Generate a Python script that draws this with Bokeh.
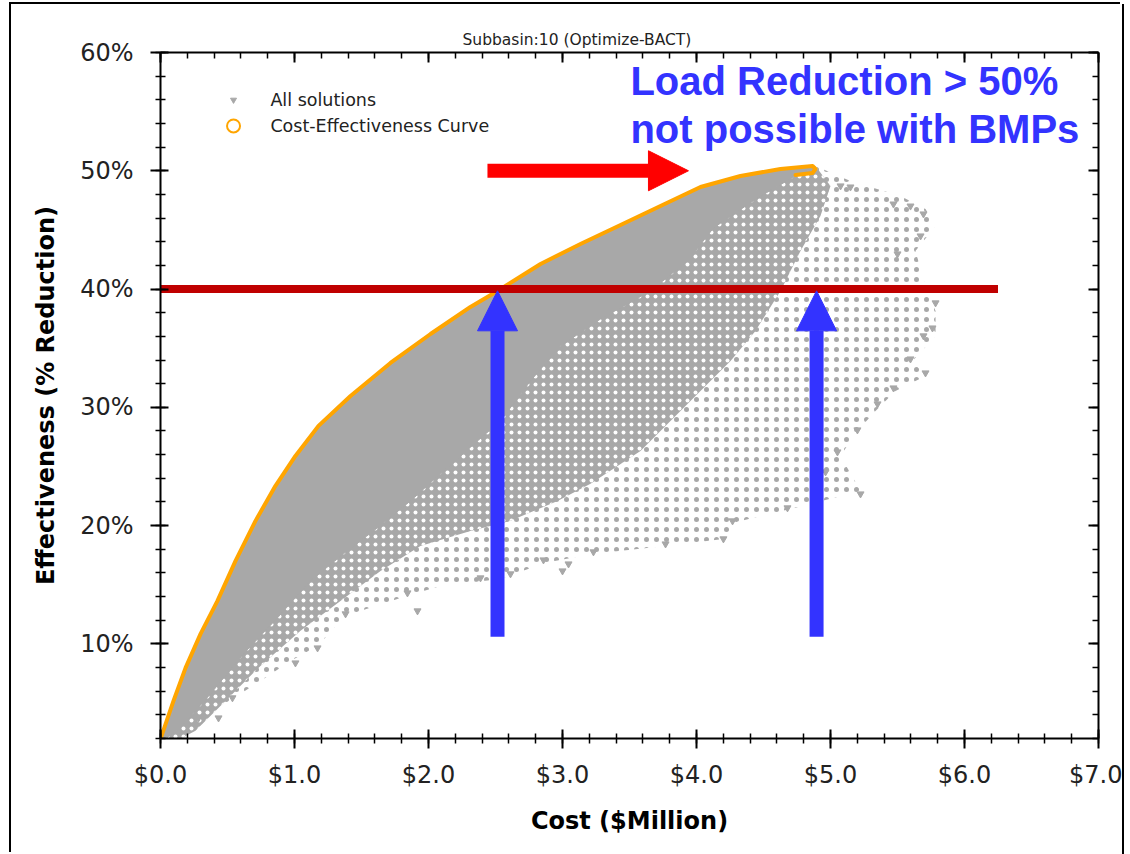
from bokeh.plotting import figure
from bokeh.models import Range1d, FixedTicker, LinearAxis, Label, Arrow, NormalHead, Title
from bokeh.embed import file_html
from bokeh.resources import INLINE

# ---------------- data ----------------
chart_title = "Subbasin:10 (Optimize-BACT)"
x_label = "Cost ($Million)"
y_label = "Effectiveness (% Reduction)"

x_ticks = [0, 1, 2, 3, 4, 5, 6, 7]
x_tick_labels = ["$0.0", "$1.0", "$2.0", "$3.0", "$4.0", "$5.0", "$6.0", "$7.0"]
y_ticks = [10, 20, 30, 40, 50, 60]
y_tick_labels = ["10%", "20%", "30%", "40%", "50%", "60%"]

# cost-effectiveness (Pareto) curve
curve_cost = [0.0, 0.097, 0.187, 0.299, 0.425, 0.56, 0.709, 0.858, 1.007, 1.179, 1.418,
              1.716, 2.015, 2.313, 2.515, 2.836, 3.134, 3.433, 3.731, 4.03, 4.328, 4.627, 4.866]
curve_eff = [1.97, 5.18, 7.97, 10.85, 13.63, 17.02, 20.40, 23.36, 25.89, 28.43, 30.96,
             33.75, 36.20, 38.49, 39.84, 42.12, 43.81, 45.42, 47.02, 48.63, 49.56, 50.15, 50.41]
curve_tip_cost = [4.888, 4.866, 4.739]
curve_tip_eff = [50.15, 49.81, 49.64]

# "All solutions" cloud: dense core edge, medium-density edge, sparse edge (tip -> origin)
dense_edge_cost = [4.866, 4.776, 4.455, 4.127, 3.933, 3.657, 3.284, 2.985, 2.761, 2.537, 2.366,
                   2.112, 1.866, 1.619, 1.366, 1.119, 0.873, 0.619, 0.373, 0.149, 0.037]
dense_edge_eff = [50.15, 49.81, 47.70, 45.17, 42.38, 39.84, 37.47, 35.19, 32.23, 28.85, 27.16,
                  24.62, 22.09, 19.81, 17.61, 15.33, 12.20, 9.15, 5.77, 2.90, 1.97]

mid_edge_cost = [4.888, 5.0, 4.925, 4.776, 4.627, 4.440, 4.254, 3.955, 3.582, 3.209, 2.963,
                 2.612, 2.313, 1.940, 1.642, 1.343, 1.045, 0.746, 0.485, 0.261, 0.149]
mid_edge_eff = [50.41, 48.72, 46.18, 43.22, 39.84, 36.46, 33.92, 30.54, 26.31, 23.53, 22.09,
                20.40, 19.55, 18.28, 16.17, 13.63, 11.10, 8.14, 5.18, 2.65, 1.97]

sparse_edge_cost = [4.888, 5.149, 5.522, 5.709, 5.784, 5.634, 5.709, 5.784, 5.784, 5.612,
                    5.709, 5.485, 5.336, 5.187, 5.075, 5.224, 4.701, 4.269, 4.216, 3.769,
                    3.231, 2.873, 2.537, 2.090, 1.843, 1.381, 1.172, 0.970, 0.746, 0.537,
                    0.299, 0.149]
sparse_edge_eff = [50.41, 49.14, 47.87, 46.77, 45.33, 43.22, 40.26, 38.15, 36.04, 33.92,
                   32.65, 31.39, 29.70, 27.84, 25.89, 22.93, 21.41, 20.23, 18.88, 18.28,
                   17.61, 16.85, 15.49, 14.90, 14.06, 12.37, 9.83, 8.56, 6.87, 5.35,
                   3.74, 1.97]

# isolated solutions at the outer edge of the cloud
outlier_cost = [0.284, 0.433, 0.537, 1.007, 1.172, 1.381, 1.843, 1.918, 2.388, 2.612, 2.858,
                3.0, 3.045, 3.231, 3.769, 4.201, 4.269, 4.679, 4.963, 5.052, 5.201, 5.224,
                5.351, 5.470, 5.597, 5.709, 5.694, 5.761, 5.784, 5.5, 5.672, 5.694, 5.597,
                5.470, 5.149, 5.075]
outlier_eff = [3.74, 3.74, 5.44, 8.39, 9.66, 12.54, 14.31, 12.79, 15.58, 15.92, 17.10,
               16.17, 16.76, 17.78, 18.45, 18.88, 20.40, 21.50, 24.54, 26.23, 28.09, 22.68,
               30.29, 31.64, 34.09, 32.91, 36.04, 36.71, 38.83, 42.97, 44.49, 46.35, 47.02,
               47.19, 48.63, 48.72]

# annotations
target_eff = 40.0
target_line_cost = [0.0, 6.25]
arrow_costs = [2.515, 4.896]
arrow_base_eff = 10.6
limit_eff = 50.0
limit_arrow_cost = [2.44, 3.94]
note_lines = ["Load Reduction > 50%", "not possible with BMPs"]

GRAY = "#A8A8A8"
ORANGE = "#FFA500"
BLUE = "#3333FF"

# ---------------- figure ----------------
p = figure(width=1111, height=850, x_range=Range1d(0, 7), y_range=Range1d(2, 60),
           output_backend="svg", toolbar_location=None,
           min_border_left=149, min_border_right=24, min_border_top=48, min_border_bottom=116,
           x_axis_label=x_label, y_axis_label=y_label)
p.grid.visible = False
p.outline_line_color = None
p.background_fill_color = "white"
p.border_fill_color = "white"
p.styles = {"margin-left": "11px", "margin-top": "4px",
            "box-shadow": "-2px -2px 0 0 #000000, 2px 0 0 0 #000000"}

p.title = Title(text=chart_title, align="left", offset=302, text_font="DejaVu Sans",
                text_font_size="15.5px", text_font_style="normal", text_color="#222222",
                standoff=8)

# cloud of all solutions
p.patch(curve_cost + sparse_edge_cost, curve_eff + sparse_edge_eff,
        fill_color=None, line_color=None, hatch_pattern="dot", hatch_color=GRAY,
        hatch_scale=10, hatch_weight=1)
p.patch(curve_cost + mid_edge_cost, curve_eff + mid_edge_eff,
        fill_color=GRAY, line_color=None, hatch_pattern="dot", hatch_color="white",
        hatch_scale=8, hatch_weight=1)
p.patch(curve_cost + dense_edge_cost, curve_eff + dense_edge_eff,
        fill_color=GRAY, line_color=GRAY, line_width=1)
p.scatter(outlier_cost, outlier_eff, marker="inverted_triangle", size=7,
          fill_color=GRAY, line_color=GRAY)

# cost-effectiveness curve
p.line(curve_cost + curve_tip_cost, curve_eff + curve_tip_eff, line_color=ORANGE,
       line_width=4, line_join="round", line_cap="round")

# 40% target line
p.line(target_line_cost, [target_eff, target_eff], line_color="#C00000", line_width=8)

# arrows
for c in arrow_costs:
    p.add_layout(Arrow(end=NormalHead(size=40, fill_color=BLUE, line_color=BLUE, line_width=1),
                       x_start=c, y_start=arrow_base_eff, x_end=c, y_end=target_eff - 0.15,
                       line_color=BLUE, line_width=14))
p.add_layout(Arrow(end=NormalHead(size=40, fill_color="#FF0000", line_color="#FF0000", line_width=1),
                   x_start=limit_arrow_cost[0], y_start=limit_eff,
                   x_end=limit_arrow_cost[1], y_end=limit_eff,
                   line_color="#FF0000", line_width=14))

# annotation text
p.add_layout(Label(x=3.507, y=57.55, text=note_lines[0], text_font="Liberation Sans",
                   text_font_style="bold", text_font_size="40px", text_color=BLUE,
                   text_baseline="alphabetic"))
p.add_layout(Label(x=3.507, y=53.5, text=note_lines[1], text_font="Liberation Sans",
                   text_font_style="bold", text_font_size="40px", text_color=BLUE,
                   text_baseline="alphabetic"))

# legend (manual)
p.scatter([0.545], [55.99], marker="inverted_triangle", size=6, fill_color=GRAY, line_color=GRAY)
p.scatter([0.545], [53.79], marker="circle", size=13, fill_color=None, line_color=ORANGE,
          line_width=2)
p.add_layout(Label(x=0.82, y=55.99, text="All solutions", text_baseline="middle",
                   text_font="DejaVu Sans", text_font_size="17.5px", text_color="#222222"))
p.add_layout(Label(x=0.82, y=53.79, text="Cost-Effectiveness Curve", text_baseline="middle",
                   text_font="DejaVu Sans", text_font_size="17.5px", text_color="#222222"))

# ---------------- axes ----------------
x_minor = [i * 0.2 for i in range(36)]
y_minor = [2 * i for i in range(1, 31)]

def style_axis(ax):
    ax.axis_line_width = 2
    ax.axis_line_color = "black"
    ax.major_tick_line_width = 2
    ax.minor_tick_line_width = 1.5
    ax.major_tick_line_color = "black"
    ax.minor_tick_line_color = "black"

xa = p.xaxis[0]
xa.ticker = FixedTicker(ticks=x_ticks, minor_ticks=x_minor)
xa.major_label_overrides = dict(zip(x_ticks, x_tick_labels))
style_axis(xa)
xa.major_tick_in, xa.major_tick_out = 9, 10
xa.minor_tick_in, xa.minor_tick_out = 5, 5
xa.major_label_standoff = 12
xa.major_label_text_font = "DejaVu Sans"
xa.major_label_text_font_size = "24px"
xa.major_label_text_color = "#222222"
xa.axis_label_standoff = 15
xa.axis_label_text_font = "DejaVu Sans"
xa.axis_label_text_font_style = "bold"
xa.axis_label_text_font_size = "24px"
xa.axis_label_text_color = "black"

ya = p.yaxis[0]
ya.ticker = FixedTicker(ticks=y_ticks, minor_ticks=y_minor)
ya.major_label_overrides = dict(zip(y_ticks, y_tick_labels))
style_axis(ya)
ya.major_tick_in, ya.major_tick_out = 8, 10
ya.minor_tick_in, ya.minor_tick_out = 5, 5
ya.major_label_standoff = 17
ya.major_label_text_font = "DejaVu Sans"
ya.major_label_text_font_size = "24px"
ya.major_label_text_color = "#222222"
ya.axis_label_standoff = 17
ya.axis_label_text_font = "DejaVu Sans"
ya.axis_label_text_font_style = "bold"
ya.axis_label_text_font_size = "24px"
ya.axis_label_text_color = "black"

top = LinearAxis(ticker=FixedTicker(ticks=x_ticks, minor_ticks=x_minor),
                 major_label_overrides={t: "" for t in x_ticks})
right = LinearAxis(ticker=FixedTicker(ticks=y_ticks, minor_ticks=y_minor),
                   major_label_overrides={t: "" for t in y_ticks})
for ax in (top, right):
    style_axis(ax)
    ax.major_tick_in, ax.major_tick_out = 10, 0
    ax.minor_tick_in, ax.minor_tick_out = 6, 0
    ax.major_label_standoff = 0
    ax.major_label_text_font_size = "0px"
p.add_layout(top, "above")
p.add_layout(right, "right")

open("out.html", "w").write(file_html(p, INLINE))
